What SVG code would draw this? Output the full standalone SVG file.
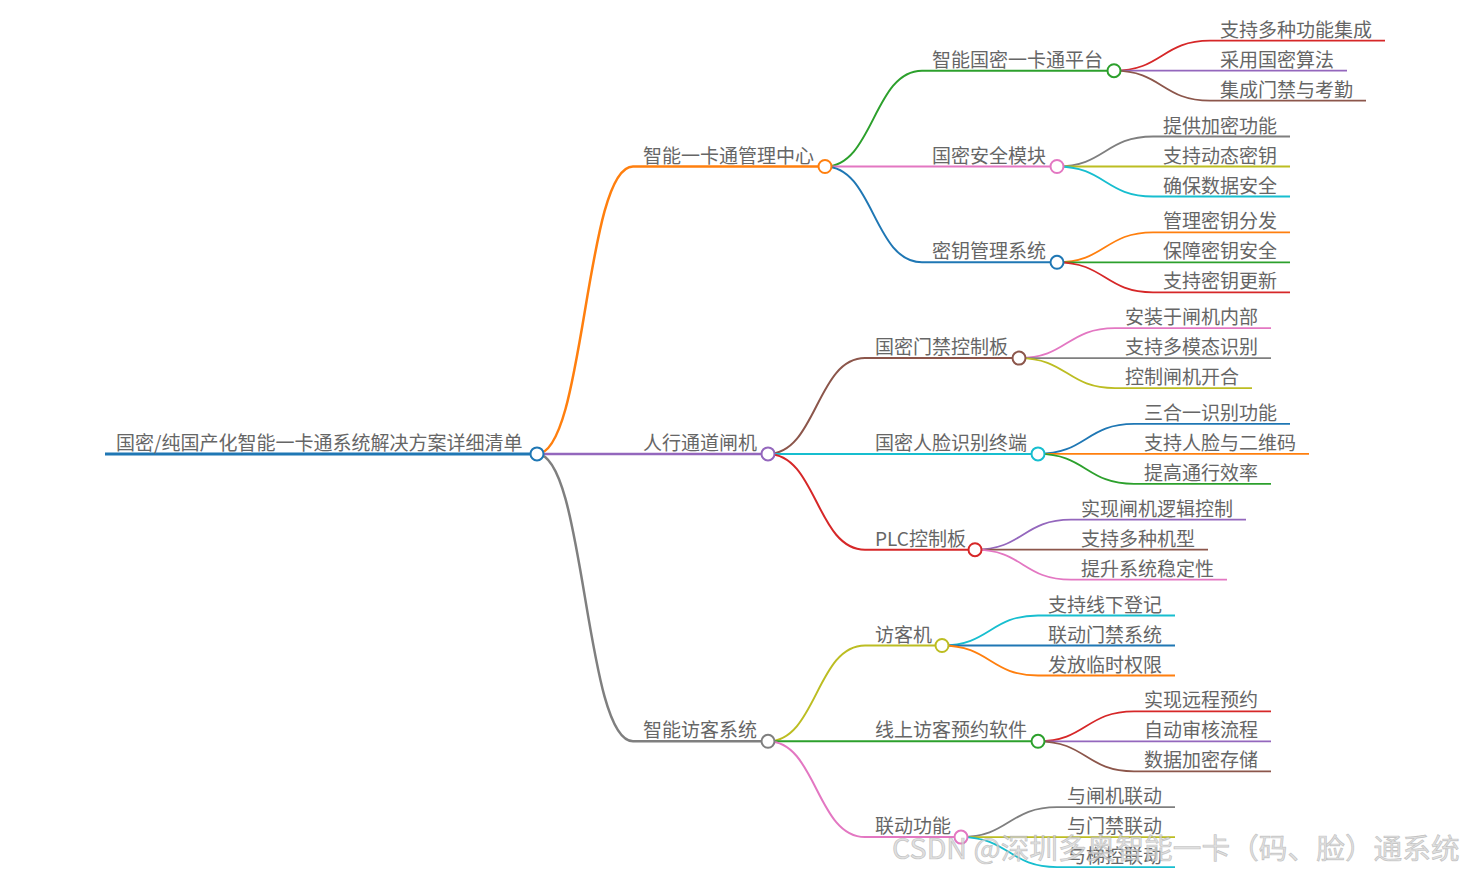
<svg xmlns="http://www.w3.org/2000/svg" width="1465" height="875" viewBox="0 0 1465 875">
<style>
.t{font-family:"Noto Sans CJK SC","Noto Sans",sans-serif;font-size:19px;fill:#666;}
path,line{fill:none;}
circle{fill:#fff;stroke-width:2;}
.d0{stroke-width:3;}
.d1{stroke-width:2.5;}
.d2{stroke-width:2;}
.d3{stroke-width:1.8;}
.blue{stroke:#1f77b4;}
.orange{stroke:#ff7f0e;}
.green{stroke:#2ca02c;}
.red{stroke:#d62728;}
.purple{stroke:#9467bd;}
.brown{stroke:#8c564b;}
.pink{stroke:#e377c2;}
.gray{stroke:#7f7f7f;}
.olive{stroke:#bcbd22;}
.cyan{stroke:#17becf;}
.wm{font-family:"Noto Sans CJK SC","Noto Sans",sans-serif;font-size:28.7px;fill:#d6d6d6;fill-opacity:0.75;stroke:#9a9a9a;stroke-opacity:0.5;stroke-width:0.7;}
</style>
<rect width="1465" height="875" fill="#ffffff"/>
<g id="connectors">
<path class="d1 orange" d="M537,453.9 C585,453.9 585,166.5 633,166.5"/>
<path class="d1 purple" d="M537,453.9 L633,453.9"/>
<path class="d1 gray" d="M537,453.9 C585,453.9 585,741.3 633,741.3"/>
<path class="d2 green" d="M825,166.5 C873.5,166.5 873.5,70.7 922,70.7"/>
<path class="d2 pink" d="M825,166.5 L922,166.5"/>
<path class="d2 blue" d="M825,166.5 C873.5,166.5 873.5,262.3 922,262.3"/>
<path class="d2 brown" d="M768,453.9 C816.5,453.9 816.5,358.1 865,358.1"/>
<path class="d2 cyan" d="M768,453.9 L865,453.9"/>
<path class="d2 red" d="M768,453.9 C816.5,453.9 816.5,549.7 865,549.7"/>
<path class="d2 olive" d="M768,741.3 C816.5,741.3 816.5,645.5 865,645.5"/>
<path class="d2 green" d="M768,741.3 L865,741.3"/>
<path class="d2 pink" d="M768,741.3 C816.5,741.3 816.5,837.1 865,837.1"/>
<path class="d3 red" d="M1114,70.7 C1162,70.7 1162,40.7 1210,40.7"/>
<path class="d3 purple" d="M1114,70.7 L1210,70.7"/>
<path class="d3 brown" d="M1114,70.7 C1162,70.7 1162,100.7 1210,100.7"/>
<path class="d3 gray" d="M1057,166.5 C1105,166.5 1105,136.5 1153,136.5"/>
<path class="d3 olive" d="M1057,166.5 L1153,166.5"/>
<path class="d3 cyan" d="M1057,166.5 C1105,166.5 1105,196.5 1153,196.5"/>
<path class="d3 orange" d="M1057,262.3 C1105,262.3 1105,232.3 1153,232.3"/>
<path class="d3 green" d="M1057,262.3 L1153,262.3"/>
<path class="d3 red" d="M1057,262.3 C1105,262.3 1105,292.3 1153,292.3"/>
<path class="d3 pink" d="M1019,358.1 C1067,358.1 1067,328.1 1115,328.1"/>
<path class="d3 gray" d="M1019,358.1 L1115,358.1"/>
<path class="d3 olive" d="M1019,358.1 C1067,358.1 1067,388.1 1115,388.1"/>
<path class="d3 blue" d="M1038,453.9 C1086,453.9 1086,423.9 1134,423.9"/>
<path class="d3 orange" d="M1038,453.9 L1134,453.9"/>
<path class="d3 green" d="M1038,453.9 C1086,453.9 1086,483.9 1134,483.9"/>
<path class="d3 purple" d="M975,549.7 C1023,549.7 1023,519.7 1071,519.7"/>
<path class="d3 brown" d="M975,549.7 L1071,549.7"/>
<path class="d3 pink" d="M975,549.7 C1023,549.7 1023,579.7 1071,579.7"/>
<path class="d3 cyan" d="M942,645.5 C990,645.5 990,615.5 1038,615.5"/>
<path class="d3 blue" d="M942,645.5 L1038,645.5"/>
<path class="d3 orange" d="M942,645.5 C990,645.5 990,675.5 1038,675.5"/>
<path class="d3 red" d="M1038,741.3 C1086,741.3 1086,711.3 1134,711.3"/>
<path class="d3 purple" d="M1038,741.3 L1134,741.3"/>
<path class="d3 brown" d="M1038,741.3 C1086,741.3 1086,771.3 1134,771.3"/>
<path class="d3 gray" d="M961,837.1 C1009,837.1 1009,807.1 1057,807.1"/>
<path class="d3 olive" d="M961,837.1 L1057,837.1"/>
<path class="d3 cyan" d="M961,837.1 C1009,837.1 1009,867.1 1057,867.1"/>
</g>
<g id="node-root"><line class="d0 blue" x1="105" y1="453.9" x2="537" y2="453.9"/><text class="t" x="116" y="449.9">国密/纯国产化智能一卡通系统解决方案详细清单</text><circle class="blue" cx="537" cy="453.9" r="6.5"/></g>

<g id="node-a"><line class="d1 orange" x1="633" y1="166.5" x2="825" y2="166.5"/><text class="t" x="643" y="162.5">智能一卡通管理中心</text><circle class="orange" cx="825" cy="166.5" r="6.5"/></g>
<g id="node-b"><line class="d1 purple" x1="633" y1="453.9" x2="768" y2="453.9"/><text class="t" x="643" y="449.9">人行通道闸机</text><circle class="purple" cx="768" cy="453.9" r="6.5"/></g>
<g id="node-c"><line class="d1 gray" x1="633" y1="741.3" x2="768" y2="741.3"/><text class="t" x="643" y="737.3">智能访客系统</text><circle class="gray" cx="768" cy="741.3" r="6.5"/></g>

<g id="node-a1"><line class="d2 green" x1="922" y1="70.7" x2="1114" y2="70.7"/><text class="t" x="932" y="66.7">智能国密一卡通平台</text><circle class="green" cx="1114" cy="70.7" r="6.5"/></g>
<g id="node-a2"><line class="d2 pink" x1="922" y1="166.5" x2="1057" y2="166.5"/><text class="t" x="932" y="162.5">国密安全模块</text><circle class="pink" cx="1057" cy="166.5" r="6.5"/></g>
<g id="node-a3"><line class="d2 blue" x1="922" y1="262.3" x2="1057" y2="262.3"/><text class="t" x="932" y="258.3">密钥管理系统</text><circle class="blue" cx="1057" cy="262.3" r="6.5"/></g>
<g id="node-b1"><line class="d2 brown" x1="865" y1="358.1" x2="1019" y2="358.1"/><text class="t" x="875" y="354.1">国密门禁控制板</text><circle class="brown" cx="1019" cy="358.1" r="6.5"/></g>
<g id="node-b2"><line class="d2 cyan" x1="865" y1="453.9" x2="1038" y2="453.9"/><text class="t" x="875" y="449.9">国密人脸识别终端</text><circle class="cyan" cx="1038" cy="453.9" r="6.5"/></g>
<g id="node-b3"><line class="d2 red" x1="865" y1="549.7" x2="975" y2="549.7"/><text class="t" x="875" y="545.7">PLC控制板</text><circle class="red" cx="975" cy="549.7" r="6.5"/></g>
<g id="node-c1"><line class="d2 olive" x1="865" y1="645.5" x2="942" y2="645.5"/><text class="t" x="875" y="641.5">访客机</text><circle class="olive" cx="942" cy="645.5" r="6.5"/></g>
<g id="node-c2"><line class="d2 green" x1="865" y1="741.3" x2="1038" y2="741.3"/><text class="t" x="875" y="737.3">线上访客预约软件</text><circle class="green" cx="1038" cy="741.3" r="6.5"/></g>
<g id="node-c3"><line class="d2 pink" x1="865" y1="837.1" x2="961" y2="837.1"/><text class="t" x="875" y="833.1">联动功能</text><circle class="pink" cx="961" cy="837.1" r="6.5"/></g>

<g id="leaf-a1-1"><line class="d3 red" x1="1210" y1="40.7" x2="1385" y2="40.7"/><text class="t" x="1220" y="36.7">支持多种功能集成</text></g>
<g id="leaf-a1-2"><line class="d3 purple" x1="1210" y1="70.7" x2="1347" y2="70.7"/><text class="t" x="1220" y="66.7">采用国密算法</text></g>
<g id="leaf-a1-3"><line class="d3 brown" x1="1210" y1="100.7" x2="1366" y2="100.7"/><text class="t" x="1220" y="96.7">集成门禁与考勤</text></g>
<g id="leaf-a2-1"><line class="d3 gray" x1="1153" y1="136.5" x2="1290" y2="136.5"/><text class="t" x="1163" y="132.5">提供加密功能</text></g>
<g id="leaf-a2-2"><line class="d3 olive" x1="1153" y1="166.5" x2="1290" y2="166.5"/><text class="t" x="1163" y="162.5">支持动态密钥</text></g>
<g id="leaf-a2-3"><line class="d3 cyan" x1="1153" y1="196.5" x2="1290" y2="196.5"/><text class="t" x="1163" y="192.5">确保数据安全</text></g>
<g id="leaf-a3-1"><line class="d3 orange" x1="1153" y1="232.3" x2="1290" y2="232.3"/><text class="t" x="1163" y="228.3">管理密钥分发</text></g>
<g id="leaf-a3-2"><line class="d3 green" x1="1153" y1="262.3" x2="1290" y2="262.3"/><text class="t" x="1163" y="258.3">保障密钥安全</text></g>
<g id="leaf-a3-3"><line class="d3 red" x1="1153" y1="292.3" x2="1290" y2="292.3"/><text class="t" x="1163" y="288.3">支持密钥更新</text></g>
<g id="leaf-b1-1"><line class="d3 pink" x1="1115" y1="328.1" x2="1271" y2="328.1"/><text class="t" x="1125" y="324.1">安装于闸机内部</text></g>
<g id="leaf-b1-2"><line class="d3 gray" x1="1115" y1="358.1" x2="1271" y2="358.1"/><text class="t" x="1125" y="354.1">支持多模态识别</text></g>
<g id="leaf-b1-3"><line class="d3 olive" x1="1115" y1="388.1" x2="1252" y2="388.1"/><text class="t" x="1125" y="384.1">控制闸机开合</text></g>
<g id="leaf-b2-1"><line class="d3 blue" x1="1134" y1="423.9" x2="1290" y2="423.9"/><text class="t" x="1144" y="419.9">三合一识别功能</text></g>
<g id="leaf-b2-2"><line class="d3 orange" x1="1134" y1="453.9" x2="1309" y2="453.9"/><text class="t" x="1144" y="449.9">支持人脸与二维码</text></g>
<g id="leaf-b2-3"><line class="d3 green" x1="1134" y1="483.9" x2="1271" y2="483.9"/><text class="t" x="1144" y="479.9">提高通行效率</text></g>
<g id="leaf-b3-1"><line class="d3 purple" x1="1071" y1="519.7" x2="1246" y2="519.7"/><text class="t" x="1081" y="515.7">实现闸机逻辑控制</text></g>
<g id="leaf-b3-2"><line class="d3 brown" x1="1071" y1="549.7" x2="1208" y2="549.7"/><text class="t" x="1081" y="545.7">支持多种机型</text></g>
<g id="leaf-b3-3"><line class="d3 pink" x1="1071" y1="579.7" x2="1227" y2="579.7"/><text class="t" x="1081" y="575.7">提升系统稳定性</text></g>
<g id="leaf-c1-1"><line class="d3 cyan" x1="1038" y1="615.5" x2="1175" y2="615.5"/><text class="t" x="1048" y="611.5">支持线下登记</text></g>
<g id="leaf-c1-2"><line class="d3 blue" x1="1038" y1="645.5" x2="1175" y2="645.5"/><text class="t" x="1048" y="641.5">联动门禁系统</text></g>
<g id="leaf-c1-3"><line class="d3 orange" x1="1038" y1="675.5" x2="1175" y2="675.5"/><text class="t" x="1048" y="671.5">发放临时权限</text></g>
<g id="leaf-c2-1"><line class="d3 red" x1="1134" y1="711.3" x2="1271" y2="711.3"/><text class="t" x="1144" y="707.3">实现远程预约</text></g>
<g id="leaf-c2-2"><line class="d3 purple" x1="1134" y1="741.3" x2="1271" y2="741.3"/><text class="t" x="1144" y="737.3">自动审核流程</text></g>
<g id="leaf-c2-3"><line class="d3 brown" x1="1134" y1="771.3" x2="1271" y2="771.3"/><text class="t" x="1144" y="767.3">数据加密存储</text></g>
<g id="leaf-c3-1"><line class="d3 gray" x1="1057" y1="807.1" x2="1175" y2="807.1"/><text class="t" x="1067" y="803.1">与闸机联动</text></g>
<g id="leaf-c3-2"><line class="d3 olive" x1="1057" y1="837.1" x2="1175" y2="837.1"/><text class="t" x="1067" y="833.1">与门禁联动</text></g>
<g id="leaf-c3-3"><line class="d3 cyan" x1="1057" y1="867.1" x2="1175" y2="867.1"/><text class="t" x="1067" y="863.1">与梯控联动</text></g>

<text class="wm" x="892" y="859">CSDN @深圳多奥智能一卡（码、脸）通系统</text>
</svg>
